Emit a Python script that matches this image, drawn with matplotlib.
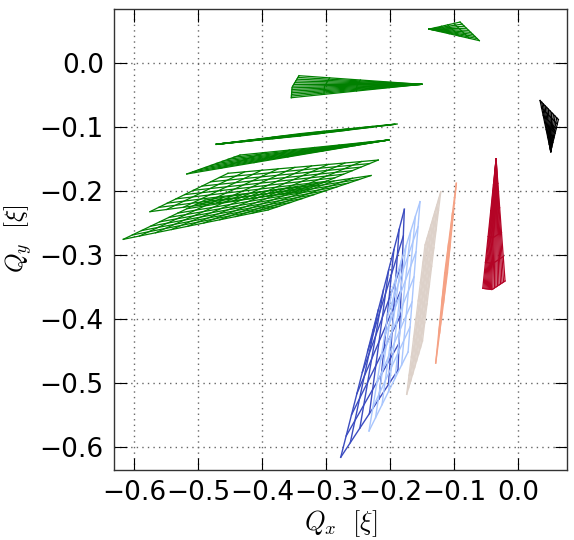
import numpy as np
import matplotlib
matplotlib.use("Agg")
import matplotlib.pyplot as plt

# Tune-shift footprints (Qx, Qy in units of the beam-beam parameter xi).
# Each footprint is spanned between an inner edge and an outer edge;
# a single-point inner edge gives a fan that opens from the zero-amplitude tip.
green_a_inner = [(-0.1395, 0.053)]
green_a_outer = [(-0.0911, 0.064), (-0.061, 0.035)]

green_b_inner = [(-0.151, -0.0333)]
green_b_outer = [(-0.3427, -0.0198), (-0.3534, -0.0375), (-0.3547, -0.0542)]

green_c_inner = [(-0.4716, -0.127)]
green_c_outer = [(-0.3411, -0.1105), (-0.1895, -0.0953), (-0.3411, -0.1140)]

green_d_inner = [(-0.2025, -0.1203)]
green_d_outer = [(-0.4348, -0.1438), (-0.5181, -0.1734)]

green_e_inner = [(-0.5755, -0.2323), (-0.3411, -0.2016)]
green_e_outer = [(-0.4536, -0.1723), (-0.2188, -0.1516)]

green_f_inner = [(-0.6172, -0.2755), (-0.3911, -0.2297)]
green_f_outer = [(-0.4895, -0.2141), (-0.2302, -0.1758)]

blue_inner = [(-0.1781, -0.2286), (-0.2270, -0.4172)]
blue_outer = [(-0.1880, -0.4797), (-0.2775, -0.6161)]

lightblue_inner = [(-0.1536, -0.2167), (-0.1973, -0.3547)]
lightblue_outer = [(-0.1723, -0.4516), (-0.2333, -0.5750)]

beige_inner = [(-0.1212, -0.2011), (-0.1458, -0.2844)]
beige_outer = [(-0.1498, -0.4344), (-0.1744, -0.5177)]

salmon_inner = [(-0.0969, -0.1880), (-0.1150, -0.3281)]
salmon_outer = [(-0.1109, -0.3281), (-0.1291, -0.4688)]

red_inner = [(-0.0348, -0.150)]
red_outer = [(-0.0556, -0.352), (-0.0411, -0.354), (-0.0208, -0.3406)]

black_inner = [(0.0506, -0.1383)]
black_outer = [(0.0339, -0.0586), (0.0625, -0.0883)]

xticks = [-0.6, -0.5, -0.4, -0.3, -0.2, -0.1, 0.0]
yticks = [-0.6, -0.5, -0.4, -0.3, -0.2, -0.1, 0.0]

plt.rcParams["mathtext.fontset"] = "cm"
plt.rcParams["font.family"] = ["DejaVu Sans"]

fig = plt.figure(figsize=(5.74, 5.40), dpi=100)
ax = fig.add_axes([113.5 / 574, 70 / 540, 453.5 / 574, 461.5 / 540])

green = "#008000"
c_blue = "#3b4cc0"
c_lightblue = "#a9c6fd"
c_beige = "#ddd1c9"
c_salmon = "#f5a285"
c_red = "#b40426"


def along(edge, t):
    pts = np.asarray(edge, dtype=float)
    if len(pts) == 1:
        return np.repeat(pts, len(t), axis=0)
    s = np.clip(t, 0, 1) * (len(pts) - 1)
    i = np.minimum(np.floor(s).astype(int), len(pts) - 2)
    f = (s - i)[:, None]
    return pts[i] * (1 - f) + pts[i + 1] * f


def footprint(inner, outer, color, n_amp, n_ang, lw=0.9, alpha=1.0):
    vv = np.linspace(0, 1, 60)
    a = along(inner, vv)
    b = along(outer, vv)
    for u in np.linspace(0, 1, n_amp):
        p = (1 - u) * a + u * b
        ax.plot(p[:, 0], p[:, 1], color=color, lw=lw, alpha=alpha)
    vs = np.linspace(0, 1, n_ang)
    a = along(inner, vs)
    b = along(outer, vs)
    for k in range(n_ang):
        ax.plot([a[k, 0], b[k, 0]], [a[k, 1], b[k, 1]], color=color, lw=lw, alpha=alpha)


footprint(green_a_inner, green_a_outer, green, 6, 10)
footprint(green_b_inner, green_b_outer, green, 5, 14)
footprint(green_c_inner, green_c_outer, green, 4, 9, lw=1.0)
footprint(green_d_inner, green_d_outer, green, 7, 10)
footprint(green_e_inner, green_e_outer, green, 10, 10)
footprint(green_f_inner, green_f_outer, green, 10, 10)
footprint(blue_inner, blue_outer, c_blue, 7, 7, lw=1.0)
footprint(lightblue_inner, lightblue_outer, c_lightblue, 7, 7, lw=1.0)
footprint(beige_inner, beige_outer, c_beige, 9, 9, lw=1.0)
footprint(salmon_inner, salmon_outer, c_salmon, 4, 4, lw=1.0)
footprint(red_inner, red_outer, c_red, 6, 18)
footprint(black_inner, black_outer, "k", 8, 12)

ax.set_xlim(-0.6325, 0.076)
ax.set_ylim(-0.636, 0.0852)
ax.set_xticks(xticks)
ax.set_yticks(yticks)
fmt = lambda t: f"{t:.1f}".replace("-", "\u2212") if t != 0 else "0.0"
ax.set_xticklabels([fmt(t) for t in xticks])
ax.set_yticklabels([fmt(t) for t in yticks])
ax.tick_params(direction="in", length=9, width=0.8, top=True, right=True,
               labelsize=19, pad=7)
ax.grid(True, color="0.4", linestyle=(0, (1, 3)), linewidth=1.0)
for s in ax.spines.values():
    s.set_linewidth(1.0)
    s.set_color("0.2")

ax.set_xlabel(r"$Q_x\ \ [\xi]$", fontsize=19, labelpad=2)
ax.set_ylabel(r"$Q_y\ \ [\xi]$", fontsize=18)
ax.yaxis.set_label_coords(-0.176, 0.5)

fig.savefig("out.png", dpi=100)
